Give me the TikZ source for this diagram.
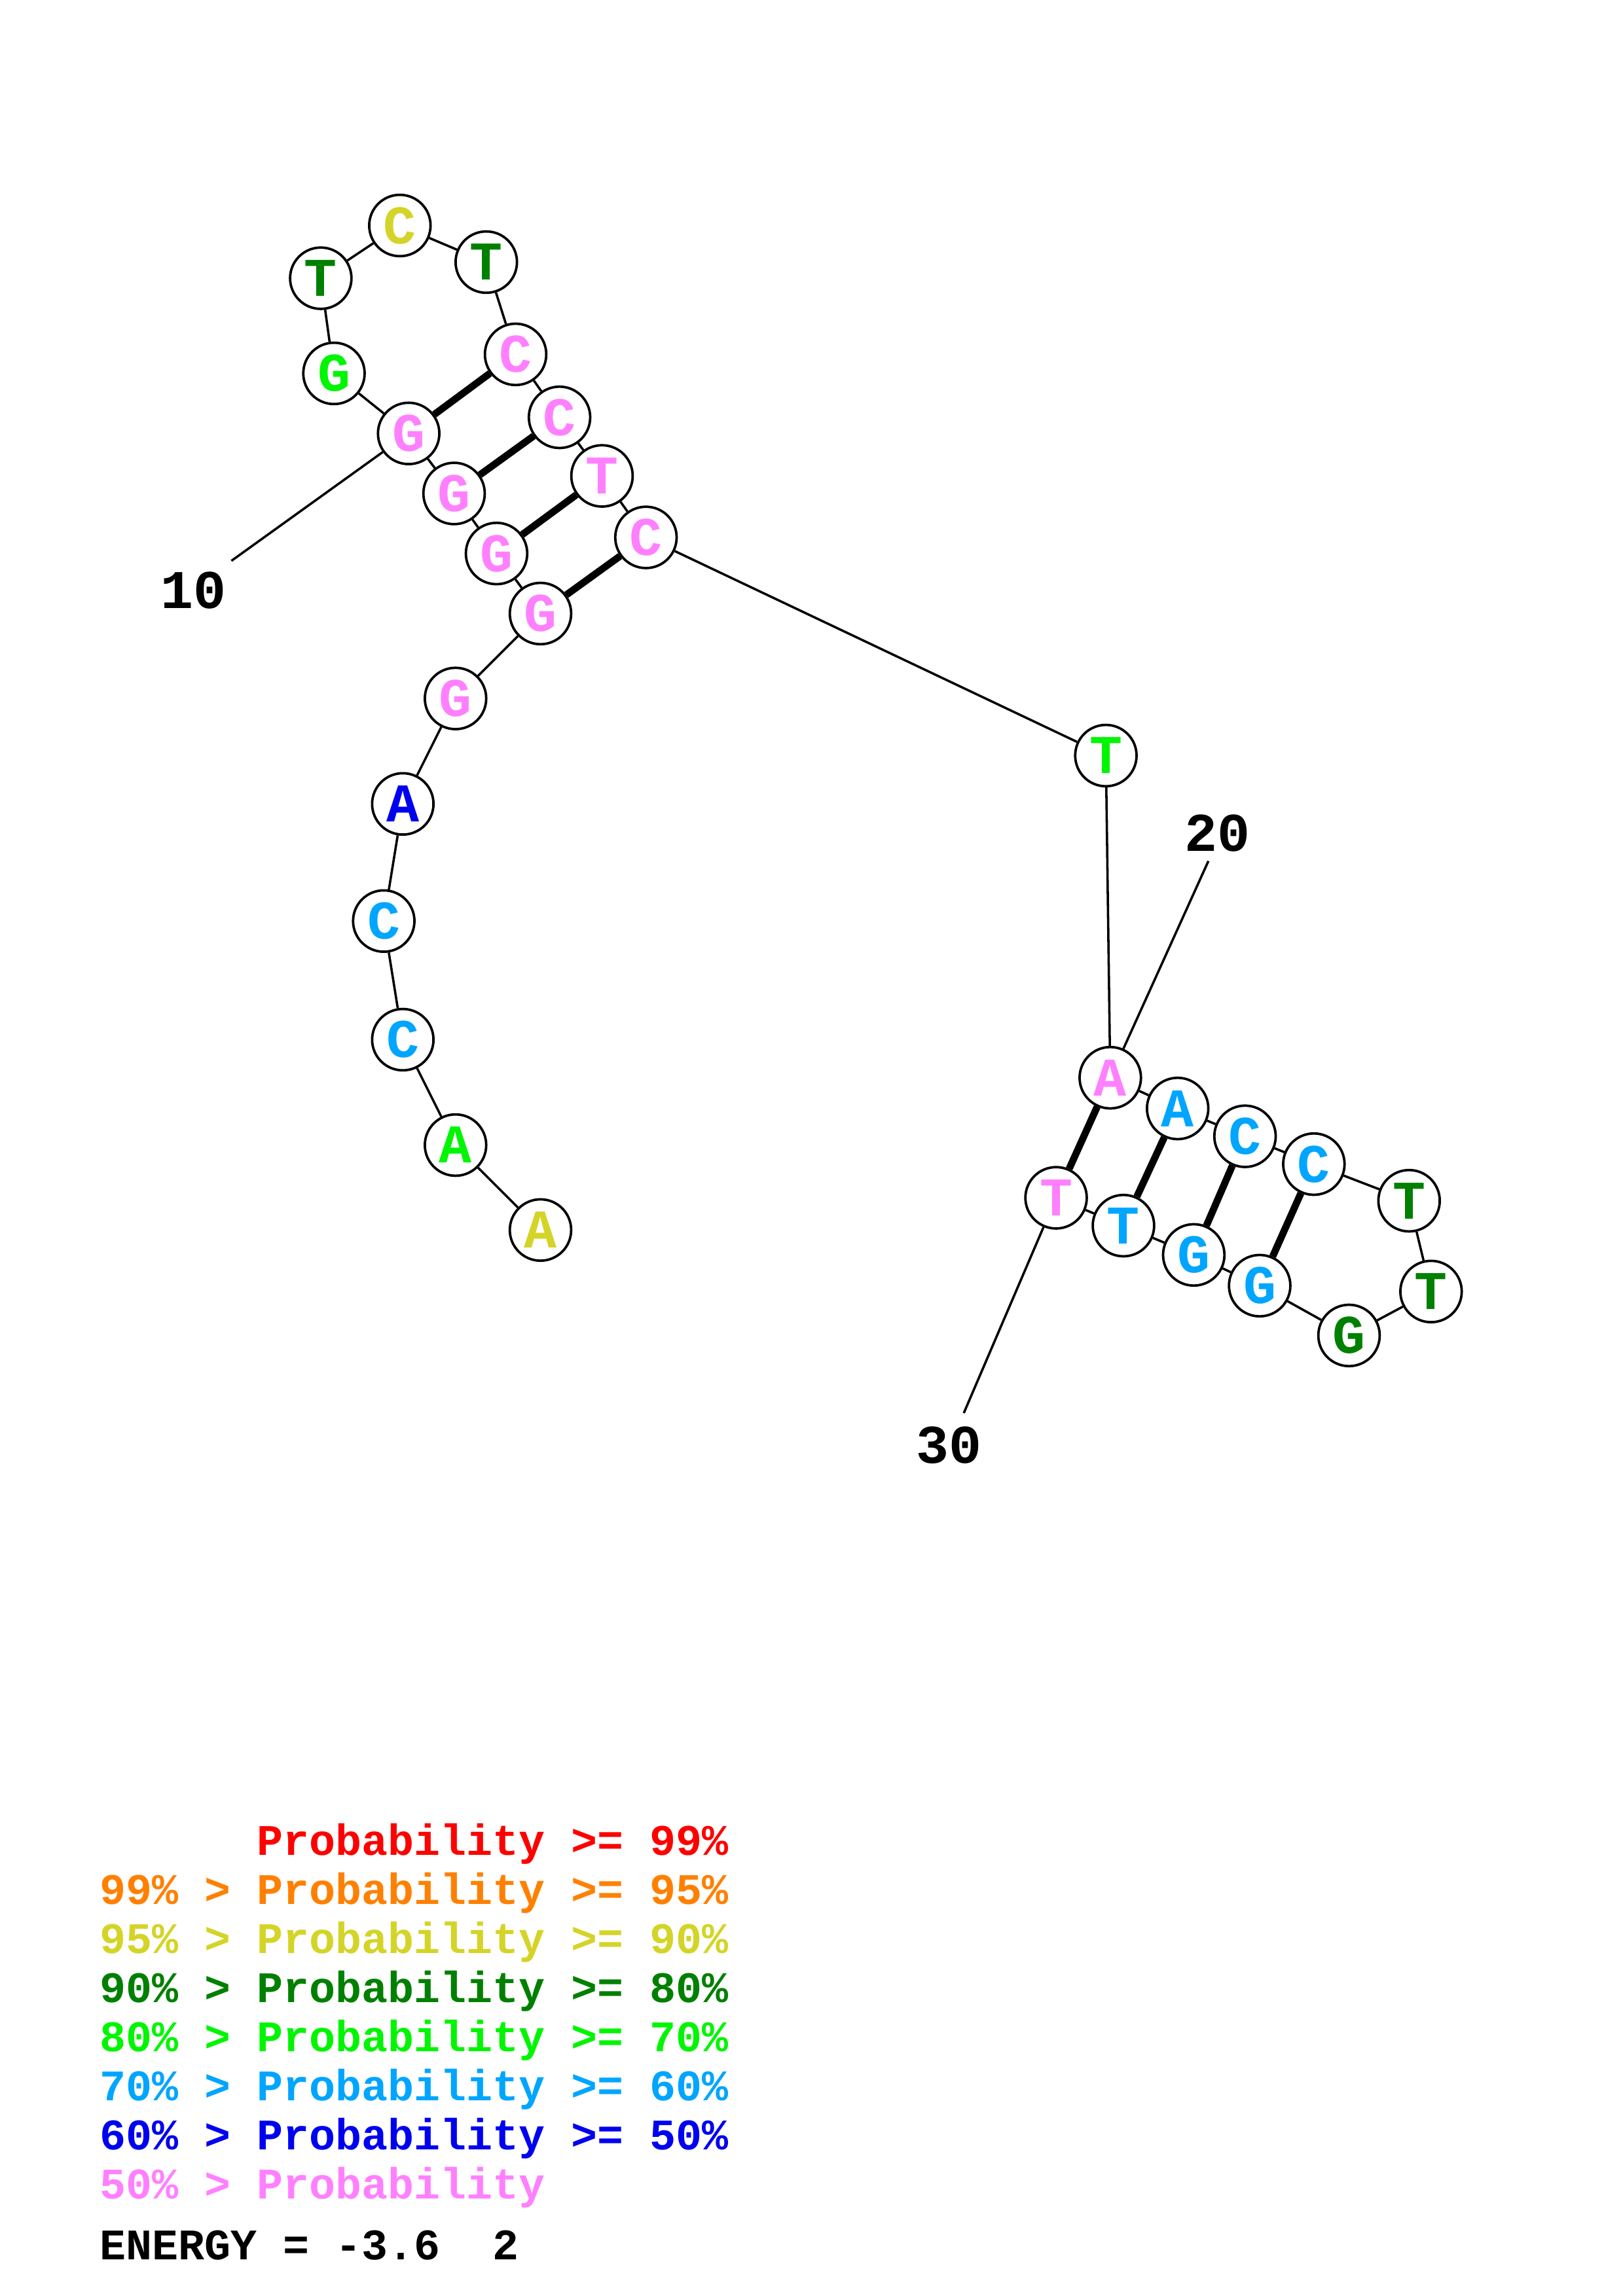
\documentclass[tikz,border=0pt]{standalone}
\usepackage{fontspec}
\newfontfamily\cour{Liberation Mono}
\definecolor{pred}{RGB}{255,0,0}
\definecolor{porange}{RGB}{255,128,0}
\definecolor{pyellow}{RGB}{212,212,40}
\definecolor{pdgreen}{RGB}{0,128,0}
\definecolor{pgreen}{RGB}{0,245,0}
\definecolor{psky}{RGB}{0,165,255}
\definecolor{pblue}{RGB}{0,0,240}
\definecolor{ppink}{RGB}{255,128,255}
\tikzset{
  base/.style={circle, draw=black, line width=0.9pt, fill=white, minimum size=22.5pt, inner sep=0pt,
    font=\cour\bfseries\fontsize{20}{20}\selectfont},
  bb/.style={line width=0.85pt},
  pair/.style={line width=2.6pt},
  num/.style={font=\cour\bfseries\fontsize{20}{20}\selectfont},
  leg/.style={anchor=base west, inner sep=0pt, font=\cour\bfseries\fontsize{16}{16}\selectfont},
}
\begin{document}
\begin{tikzpicture}[x=0.53698pt, y=-0.53698pt]
\useasboundingbox (0,0) rectangle (1108,1568);
% nucleotides
\node[base, text=pyellow] (n1) at (369,840) {A};
\node[base, text=pgreen] (n2) at (311,782) {A};
\node[base, text=psky] (n3) at (275,710) {C};
\node[base, text=psky] (n4) at (262,629) {C};
\node[base, text=pblue] (n5) at (275,549) {A};
\node[base, text=ppink] (n6) at (311,477) {G};
\node[base, text=ppink] (n7) at (369,419) {G};
\node[base, text=ppink] (n8) at (339,378) {G};
\node[base, text=ppink] (n9) at (310,337) {G};
\node[base, text=ppink] (n10) at (279,296) {G};
\node[base, text=pgreen] (n11) at (228,255) {G};
\node[base, text=pdgreen] (n12) at (219,190) {T};
\node[base, text=pyellow] (n13) at (273,154) {C};
\node[base, text=pdgreen] (n14) at (332,179) {T};
\node[base, text=ppink] (n15) at (352,242) {C};
\node[base, text=ppink] (n16) at (382,285) {C};
\node[base, text=ppink] (n17) at (411,325) {T};
\node[base, text=ppink] (n18) at (441,367) {C};
\node[base, text=pgreen] (n19) at (755,516) {T};
\node[base, text=ppink] (n20) at (758,736) {A};
\node[base, text=psky] (n21) at (804,757) {A};
\node[base, text=psky] (n22) at (850,776) {C};
\node[base, text=psky] (n23) at (897,795) {C};
\node[base, text=pdgreen] (n24) at (962,820) {T};
\node[base, text=pdgreen] (n25) at (977,882) {T};
\node[base, text=pdgreen] (n26) at (921,912) {G};
\node[base, text=psky] (n27) at (860,878) {G};
\node[base, text=psky] (n28) at (815,857) {G};
\node[base, text=psky] (n29) at (767,837) {T};
\node[base, text=ppink] (n30) at (721,818) {T};
% backbone
\draw[bb] (n1) -- (n2) -- (n3) -- (n4) -- (n5) -- (n6) -- (n7) -- (n8) -- (n9) -- (n10)
  -- (n11) -- (n12) -- (n13) -- (n14) -- (n15) -- (n16) -- (n17) -- (n18) -- (n19) -- (n20)
  -- (n21) -- (n22) -- (n23) -- (n24) -- (n25) -- (n26) -- (n27) -- (n28) -- (n29) -- (n30);
% base pairs
\draw[pair] (n10) -- (n15);
\draw[pair] (n9) -- (n16);
\draw[pair] (n8) -- (n17);
\draw[pair] (n7) -- (n18);
\draw[pair] (n20) -- (n30);
\draw[pair] (n21) -- (n29);
\draw[pair] (n22) -- (n28);
\draw[pair] (n23) -- (n27);
% numbering
\coordinate (c10) at (158,383);
\coordinate (c20) at (825,588);
\coordinate (c30) at (658,965);
\draw[bb] (c10) -- (n10);
\draw[bb] (c20) -- (n20);
\draw[bb] (c30) -- (n30);
\node[num] (l10) at (132,403) {10};
\node[num] (l20) at (831,569) {20};
\node[num] (l30) at (648,987) {30};
% legend
\node[leg, text=pred] (g1) at (68,1267) {\hphantom{99\% > }Probability >= 99\%};
\node[leg, text=porange] (g2) at (68,1300.5) {99\% > Probability >= 95\%};
\node[leg, text=pyellow] (g3) at (68,1334) {95\% > Probability >= 90\%};
\node[leg, text=pdgreen] (g4) at (68,1367.5) {90\% > Probability >= 80\%};
\node[leg, text=pgreen] (g5) at (68,1401) {80\% > Probability >= 70\%};
\node[leg, text=psky] (g6) at (68,1434.5) {70\% > Probability >= 60\%};
\node[leg, text=pblue] (g7) at (68,1468) {60\% > Probability >= 50\%};
\node[leg, text=ppink] (g8) at (68,1501.5) {50\% > Probability};
\node[leg, text=black] (en) at (68,1543) {ENERGY = -3.6\ \ 2};
\end{tikzpicture}
\end{document}
